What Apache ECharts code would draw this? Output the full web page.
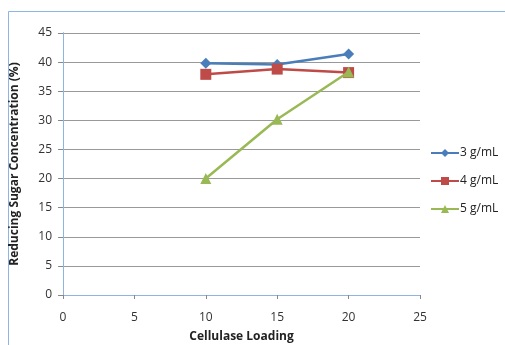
<!DOCTYPE html>
<html>
<head>
<meta charset="utf-8">
<script src="https://cdn.jsdelivr.net/npm/echarts@6/dist/echarts.min.js"></script>
<style>
  html, body { margin: 0; padding: 0; background: #fff; }
  #chart { width: 505px; height: 345px; }
</style>
</head>
<body>
<div id="chart"></div>
<script>
// data
const loadings = [10, 15, 20];
const seriesNames = ['3 g/mL', '4 g/mL', '5 g/mL'];
const conc3 = [39.8, 39.6, 41.4];
const conc4 = [37.9, 38.8, 38.2];
const conc5 = [20.0, 30.2, 38.3];

const colors = ['#4A7EBB', '#BE4B48', '#98B954'];
const symbols = ['diamond', 'rect', 'triangle'];
const symbolSizes = [11, 11, 11];
const allValues = [conc3, conc4, conc5];

const font = '"Open Sans", Lato, sans-serif';

function pairs(vals) {
  return loadings.map((x, i) => [x, vals[i]]);
}

const chart = echarts.init(document.getElementById('chart'));

const option = {
  animation: false,
  color: colors,
  graphic: [{
    type: 'rect',
    shape: { x: 8.5, y: 11.5, width: 600, height: 400 },
    style: { fill: 'none', stroke: '#8EB4E3', lineWidth: 1 },
    silent: true
  }],
  grid: { left: 63, right: 85, top: 33, bottom: 50, outerBoundsMode: 'none', containLabel: false },
  legend: {
    orient: 'vertical',
    left: 425,
    top: 142,
    itemWidth: 28,
    itemHeight: 10,
    itemGap: 16,
    textStyle: { fontFamily: font, fontSize: 12, color: '#222', padding: [0, 0, 0, -4] },
    data: seriesNames
  },
  xAxis: [{
    type: 'value',
    min: 0, max: 25, interval: 5,
    name: 'Cellulase Loading',
    nameLocation: 'middle',
    nameGap: 36,
    nameTextStyle: { fontFamily: font, fontSize: 12, fontWeight: 'bold', color: '#222' },
    axisLine: { lineStyle: { color: '#888' } },
    axisTick: { show: true, length: 4, lineStyle: { color: '#888' } },
    axisLabel: { fontFamily: font, fontSize: 12, color: '#333', margin: 17 },
    splitLine: { show: false }
  }, {
    type: 'value', position: 'top',
    min: 0, max: 25, interval: 5,
    axisLine: { show: true, lineStyle: { color: '#8EB4E3' } },
    axisTick: { show: false }, axisLabel: { show: false }, splitLine: { show: false }
  }],
  yAxis: [{
    type: 'value',
    min: 0, max: 45, interval: 5,
    name: 'Reducing Sugar Concentration (%)',
    nameLocation: 'middle',
    nameGap: 42,
    nameTextStyle: { fontFamily: font, fontSize: 12, fontWeight: 'bold', color: '#222' },
    axisLine: { show: true, lineStyle: { color: '#888' } },
    axisTick: { show: true, length: 5, lineStyle: { color: '#888' } },
    axisLabel: { fontFamily: font, fontSize: 12, color: '#333', margin: 11 },
    splitLine: { show: true, lineStyle: { color: '#999', width: 1 } }
  }, {
    type: 'value', position: 'right',
    min: 0, max: 45, interval: 5,
    axisLine: { show: true, lineStyle: { color: '#8EB4E3' } },
    axisTick: { show: false }, axisLabel: { show: false }, splitLine: { show: false }
  }],
  series: seriesNames.map((name, i) => ({
    name: name,
    type: 'line',
    data: pairs(allValues[i]),
    symbol: symbols[i],
    symbolSize: symbolSizes[i],
    lineStyle: { width: 2.5, color: colors[i] },
    itemStyle: { color: colors[i] },
    z: 3 + i
  }))
};

chart.setOption(option);
</script>
</body>
</html>
